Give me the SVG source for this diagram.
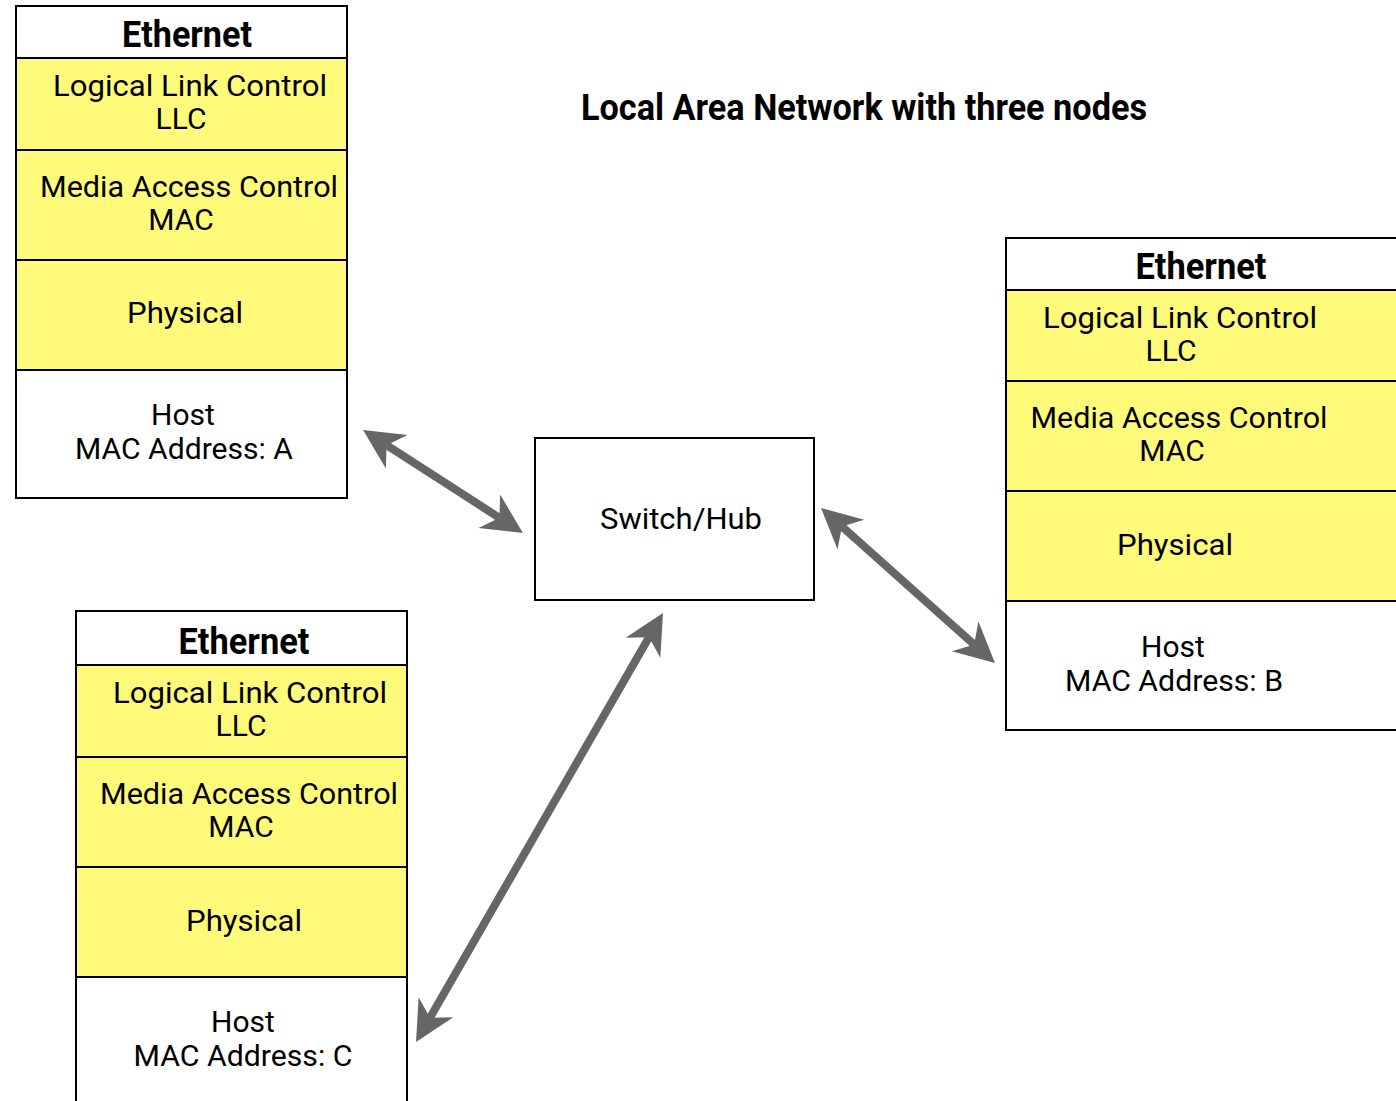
<svg xmlns="http://www.w3.org/2000/svg" width="1396" height="1101" viewBox="0 0 1396 1101">
<style>
.box{fill:#fff;stroke:#000;stroke-width:2}
.y{fill:#FFFA7A;stroke:#000;stroke-width:2}
.t{font-family:Roboto,"Liberation Sans",sans-serif;font-size:30px;fill:#000;text-anchor:middle}
.h{font-family:Roboto,"Liberation Sans",sans-serif;font-size:36px;font-weight:bold;fill:#000;text-anchor:middle}
.ttl{font-family:Roboto,"Liberation Sans",sans-serif;font-size:37px;font-weight:bold;fill:#000}
.conn{stroke:#666;stroke-width:8;fill:none;marker-start:url(#ah);marker-end:url(#ah)}
</style>
<defs>
<marker id="ah" markerUnits="userSpaceOnUse" viewBox="-14 -22 44 44" refX="0" refY="0" markerWidth="44" markerHeight="44" orient="auto-start-reverse">
<path d="M28,0 L-12,20 L0,0 L-12,-20 Z" fill="#666"/>
</marker>
</defs>
<rect width="1396" height="1101" fill="#fff"/>
<text class="ttl" x="581" y="120" textLength="566" lengthAdjust="spacingAndGlyphs">Local Area Network with three nodes</text>

<g id="nodeA">
<rect class="box" x="16" y="6" width="331" height="52"/>
<rect class="y" x="16" y="58" width="331" height="92"/>
<rect class="y" x="16" y="150" width="331" height="110"/>
<rect class="y" x="16" y="260" width="331" height="110"/>
<rect class="box" x="16" y="370" width="331" height="128"/>
<text class="h" x="187" y="47" textLength="130" lengthAdjust="spacingAndGlyphs">Ethernet</text>
<text class="t" x="190" y="96" textLength="274" lengthAdjust="spacingAndGlyphs">Logical Link Control</text>
<text class="t" x="181" y="129">LLC</text>
<text class="t" x="189" y="197" textLength="298" lengthAdjust="spacingAndGlyphs">Media Access Control</text>
<text class="t" x="181" y="230">MAC</text>
<text class="t" x="185" y="323" textLength="116" lengthAdjust="spacingAndGlyphs">Physical</text>
<text class="t" x="183" y="425">Host</text>
<text class="t" x="184" y="459" textLength="218" lengthAdjust="spacingAndGlyphs">MAC Address: A</text>
</g>

<g id="nodeB">
<rect class="box" x="1006" y="238" width="394" height="52"/>
<rect class="y" x="1006" y="290" width="394" height="91"/>
<rect class="y" x="1006" y="381" width="394" height="110"/>
<rect class="y" x="1006" y="491" width="394" height="110"/>
<rect class="box" x="1006" y="601" width="394" height="129"/>
<text class="h" x="1201" y="279" textLength="131" lengthAdjust="spacingAndGlyphs">Ethernet</text>
<text class="t" x="1180" y="328" textLength="274" lengthAdjust="spacingAndGlyphs">Logical Link Control</text>
<text class="t" x="1171" y="361">LLC</text>
<text class="t" x="1179" y="428" textLength="297" lengthAdjust="spacingAndGlyphs">Media Access Control</text>
<text class="t" x="1172" y="461">MAC</text>
<text class="t" x="1175" y="555" textLength="116" lengthAdjust="spacingAndGlyphs">Physical</text>
<text class="t" x="1173" y="657">Host</text>
<text class="t" x="1174" y="691" textLength="218" lengthAdjust="spacingAndGlyphs">MAC Address: B</text>
</g>

<g id="nodeC">
<rect class="box" x="76" y="611" width="331" height="54"/>
<rect class="y" x="76" y="665" width="331" height="92"/>
<rect class="y" x="76" y="757" width="331" height="110"/>
<rect class="y" x="76" y="867" width="331" height="110"/>
<rect class="box" x="76" y="977" width="331" height="130"/>
<text class="h" x="244" y="654" textLength="131" lengthAdjust="spacingAndGlyphs">Ethernet</text>
<text class="t" x="250" y="703" textLength="274" lengthAdjust="spacingAndGlyphs">Logical Link Control</text>
<text class="t" x="241" y="736">LLC</text>
<text class="t" x="249" y="804" textLength="298" lengthAdjust="spacingAndGlyphs">Media Access Control</text>
<text class="t" x="241" y="837">MAC</text>
<text class="t" x="244" y="931" textLength="116" lengthAdjust="spacingAndGlyphs">Physical</text>
<text class="t" x="243" y="1032">Host</text>
<text class="t" x="243" y="1066" textLength="219" lengthAdjust="spacingAndGlyphs">MAC Address: C</text>
</g>

<g id="switch">
<rect class="box" x="535" y="438" width="279" height="162"/>
<text class="t" x="681" y="529" textLength="162" lengthAdjust="spacingAndGlyphs">Switch/Hub</text>
</g>

<g id="connectors">
<path class="conn" d="M386.6,445.2 L499.4,517.8"/>
<path class="conn" d="M841.9,526.6 L974.1,644.4"/>
<path class="conn" d="M649,637.3 L430,1017.7"/>
</g>
</svg>
